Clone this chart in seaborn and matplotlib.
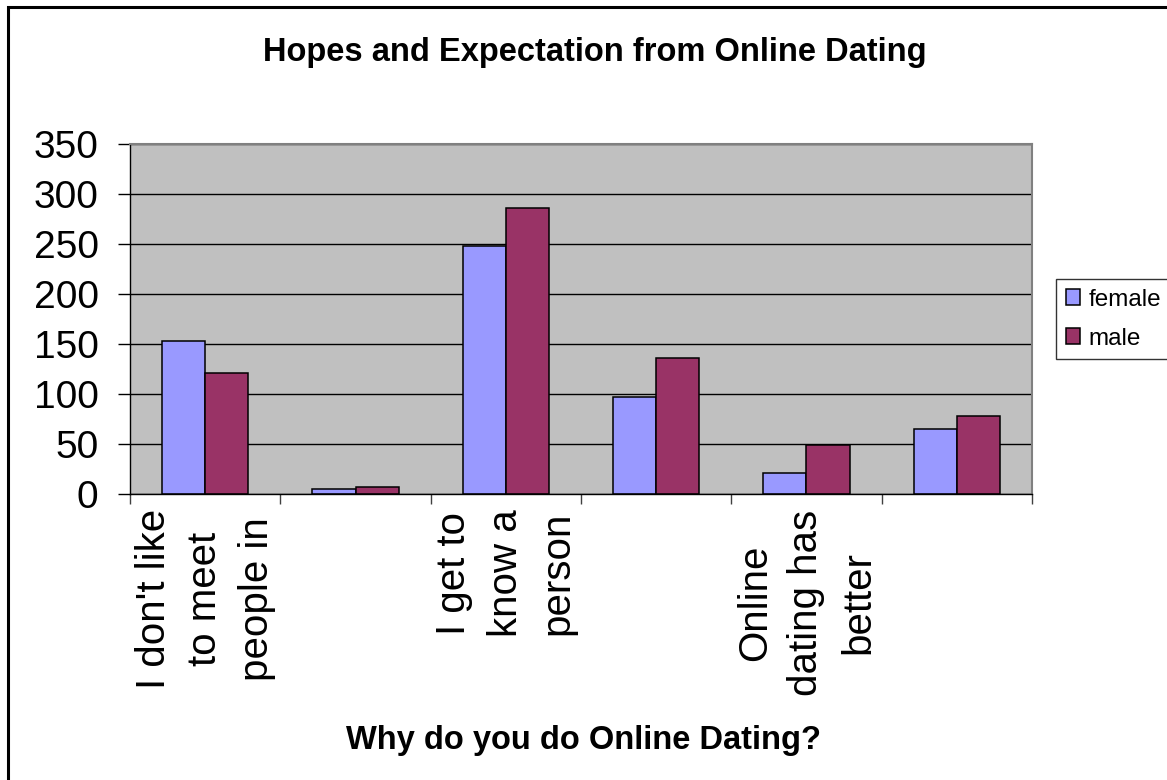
import numpy as np
import pandas as pd
import matplotlib
matplotlib.use("Agg")
import matplotlib.pyplot as plt
import seaborn as sns
from matplotlib.patches import Rectangle

# ---- data ----
categories = ["I don't like to meet people in", "Reason 2", "I get to know a person",
              "Reason 4", "Online dating has better", "Reason 6"]
tick_labels = ["I don't like\nto meet\npeople in", "", "I get to\nknow a\nperson", "",
               "Online\ndating has\nbetter", ""]
female = [153, 5, 248, 97, 21, 65]
male = [121, 7, 286, 136, 49, 78]
series = ["female", "male"]
colors = ["#9999FF", "#993366"]
yticks = [0, 50, 100, 150, 200, 250, 300, 350]
title = "Hopes and Expectation from Online Dating"
xlabel = "Why do you do Online Dating?"

df = pd.DataFrame({
    "category": categories * 2,
    "gender": [series[0]] * len(categories) + [series[1]] * len(categories),
    "value": female + male,
})

sns.set_theme(style="white")
plt.rcParams["font.family"] = ["Liberation Sans", "DejaVu Sans"]
plt.rcParams["text.color"] = "black"
plt.rcParams["xtick.color"] = "black"
plt.rcParams["ytick.color"] = "black"
plt.rcParams["axes.labelcolor"] = "black"

W, H = 1167, 780
fig = plt.figure(figsize=(W / 100, H / 100), dpi=100)
fig.patch.set_facecolor("white")
ax = fig.add_axes([130 / W, 1 - 494 / H, (1032 - 130) / W, 350 / H])

sns.barplot(data=df, x="category", y="value", hue="gender", order=categories,
            hue_order=series, palette=colors, saturation=1, width=0.575,
            edgecolor="black", linewidth=1.1, ax=ax)

ax.set_facecolor("#C0C0C0")
ax.set_xlim(-0.5, len(categories) - 0.5)
ax.set_ylim(0, 350)
ax.set_axisbelow(True)
ax.yaxis.grid(True, color="black", linewidth=1.0)
ax.xaxis.grid(False)

ax.set_yticks(yticks)
ax.set_yticklabels([str(v) for v in yticks], fontsize=28, color="black")
ax.tick_params(axis="y", which="major", direction="out", length=8.6, width=1,
               color="black", pad=14, left=True)

ax.set_xticks(range(len(categories)))
ax.set_xticklabels(tick_labels, rotation=90, fontsize=29, va="top", ha="center",
                   multialignment="center", linespacing=1.45, color="black")
ax.tick_params(axis="x", which="major", length=0, pad=11)
ax.set_xticks(np.arange(-0.5, len(categories), 1.0), minor=True)
ax.tick_params(axis="x", which="minor", direction="out", length=7.2, width=1,
               color="#404040", bottom=True)

ax.set_xlabel("")
ax.set_ylabel("")

for s in ["top", "right"]:
    ax.spines[s].set_color("#808080")
    ax.spines[s].set_linewidth(1.5)
for s in ["left", "bottom"]:
    ax.spines[s].set_color("black")
    ax.spines[s].set_linewidth(1.0)

handles, labels = ax.get_legend_handles_labels()
if ax.get_legend() is not None:
    ax.get_legend().remove()
leg = ax.legend(handles, labels, loc="upper left",
                bbox_to_anchor=(1056 / W, 1 - 279 / H), bbox_transform=fig.transFigure,
                fontsize=17.5, frameon=True, fancybox=False, handlelength=0.6,
                handleheight=0.6, handletextpad=0.35, borderpad=0.4,
                labelspacing=0.7, borderaxespad=0)
leg.get_frame().set_edgecolor("black")
leg.get_frame().set_linewidth(1.0)
leg.get_frame().set_facecolor("white")
for t in leg.get_texts():
    t.set_color("black")

fig.text(595 / W, 1 - 52 / H, title, ha="center", va="center", fontsize=23.5,
         fontweight="bold", color="black")
fig.text(583 / W, 1 - 740 / H, xlabel, ha="center", va="center", fontsize=23.5,
         fontweight="bold", color="black")

border = Rectangle((8 / W, -0.1), 1.2, 1.1 - 7 / H, transform=fig.transFigure,
                   fill=False, edgecolor="black", linewidth=2.2, clip_on=False)
fig.patches.append(border)

fig.savefig("out.png", dpi=100)
